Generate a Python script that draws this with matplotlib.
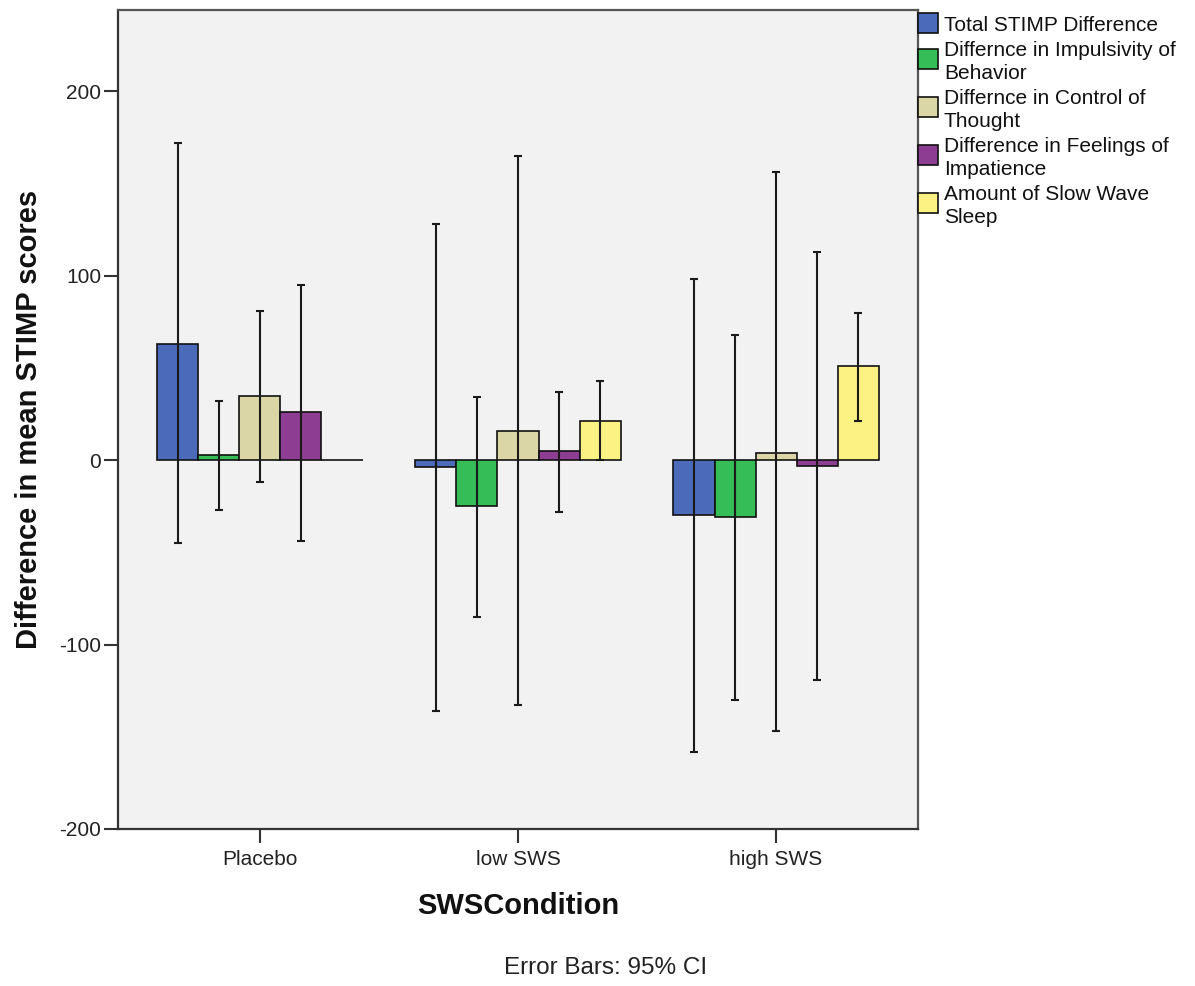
#!/usr/bin/env python

import numpy as np
import matplotlib.pyplot as plt
from matplotlib.patches import Rectangle

# groups on the x axis
conditions = ["Placebo", "low SWS", "high SWS"]

series_names = [
    "Total STIMP Difference",
    "Differnce in Impulsivity of\nBehavior",
    "Differnce in Control of\nThought",
    "Difference in Feelings of\nImpatience",
    "Amount of Slow Wave\nSleep",
]

# means per series, one value per condition
total_diff = [63, -4, -30]
impulsivity_diff = [3, -25, -31]
control_diff = [35, 16, 4]
impatience_diff = [26, 5, -3]
sws_amount = [0, 21, 51]

# 95% CI bounds (nan = no error bar drawn)
total_ci_low = [-45, -136, -158]
total_ci_high = [172, 128, 98]
impulsivity_ci_low = [-27, -85, -130]
impulsivity_ci_high = [32, 34, 68]
control_ci_low = [-12, -133, -147]
control_ci_high = [81, 165, 156]
impatience_ci_low = [-44, -28, -119]
impatience_ci_high = [95, 37, 113]
sws_ci_low = [np.nan, 0, 21]
sws_ci_high = [np.nan, 43, 80]

y_ticks = [-200, -100, 0, 100, 200]

colors = ["#4b6bba", "#35bd58", "#dbd6a5", "#8e3e92", "#fcf283"]

FONT = "Liberation Sans"
W, H = 1195, 986

plt.rcParams["axes.unicode_minus"] = False


def px_x(x: float) -> float:
    return x / W


def px_y(y: float) -> float:
    return 1 - y / H


def draw_legend(fig: plt.Figure) -> None:
    """Legend outside the plot, squares centred on each (possibly 2-line) label."""
    pitch = 23.5
    top = 14.0
    for name, color in zip(series_names, colors):
        nlines = name.count("\n") + 1
        block = nlines * pitch
        center = top + block / 2
        fig.add_artist(
            Rectangle(
                (px_x(918), px_y(center - 3 + 10)),
                20 / W,
                20 / H,
                transform=fig.transFigure,
                facecolor=color,
                edgecolor="#111111",
                linewidth=1.2,
            )
        )
        fig.text(
            px_x(944),
            px_y(center),
            name,
            ha="left",
            va="center",
            fontsize=15,
            family=FONT,
            color="#111111",
            linespacing=1.25,
        )
        top += block + 1


def main() -> int:
    means = [total_diff, impulsivity_diff, control_diff, impatience_diff, sws_amount]
    lows = [total_ci_low, impulsivity_ci_low, control_ci_low, impatience_ci_low, sws_ci_low]
    highs = [total_ci_high, impulsivity_ci_high, control_ci_high, impatience_ci_high, sws_ci_high]

    fig = plt.figure(figsize=(W / 100, H / 100), dpi=100)
    ax = fig.add_axes((118 / W, 1 - 829 / H, 800 / W, 819 / H))
    ax.set_facecolor("#f2f2f2")

    x = np.arange(len(conditions))
    width = 0.159
    for i, (vals, lo, hi, color) in enumerate(zip(means, lows, highs, colors)):
        pos = x + (i - 2) * width
        vals = np.asarray(vals, dtype=float)
        ax.bar(pos, vals, width, color=color, edgecolor="#111111", linewidth=1.2, zorder=2)
        err = np.vstack([vals - np.asarray(lo), np.asarray(hi) - vals])
        ax.errorbar(
            pos, vals, yerr=err, fmt="none", ecolor="#1a1a1a",
            elinewidth=1.5, capsize=3, capthick=1.5, zorder=3,
        )

    ax.set_xlim(-0.55, 2.55)
    ax.set_ylim(-200, 244)
    ax.set_yticks(y_ticks)
    ax.set_xticks(x)
    ax.set_xticklabels(conditions)
    ax.tick_params(axis="both", direction="out", length=10, width=1.5,
                   color="#333333", labelsize=15, labelcolor="#222222")
    ax.tick_params(axis="y", pad=2)
    ax.tick_params(axis="x", pad=5)
    for label in ax.get_xticklabels() + ax.get_yticklabels():
        label.set_family(FONT)

    for side in ["left", "bottom"]:
        ax.spines[side].set_color("#333333")
        ax.spines[side].set_linewidth(1.6)
    for side in ["top", "right"]:
        ax.spines[side].set_color("#555555")
        ax.spines[side].set_linewidth(1.6)

    ax.set_ylabel("Difference in mean STIMP scores", fontsize=21,
                  fontweight="bold", family=FONT, color="#111111")
    ax.yaxis.set_label_coords(-0.094, 0.5)
    ax.set_xlabel("SWSCondition", fontsize=21, fontweight="bold",
                  family=FONT, color="#111111")
    ax.xaxis.set_label_coords(0.5, -0.077)

    draw_legend(fig)

    fig.text(606 / W, 1 - 968 / H, "Error Bars: 95% CI", ha="center", va="center",
             fontsize=17.5, family=FONT, color="#222222")

    fig.savefig("out.png", dpi=100, facecolor="white")
    return 0


if __name__ == "__main__":
    main()
